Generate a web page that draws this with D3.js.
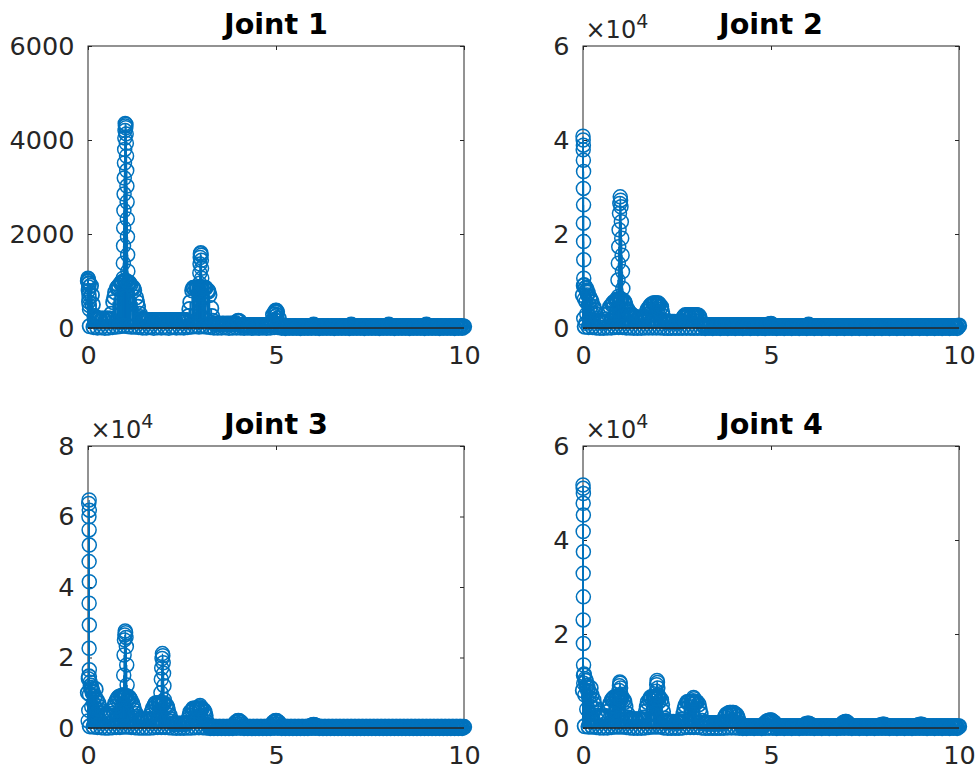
<!DOCTYPE html>
<html><head><meta charset="utf-8">
<script src="https://cdn.jsdelivr.net/npm/d3@7"></script>
<style>body{margin:0;background:#fff} svg{display:block}</style>
</head><body>
<svg id="chart" width="978" height="769"></svg>
<script>
// ---------------- DATA ----------------
const titles = ["Joint 1", "Joint 2", "Joint 3", "Joint 4"];
const freqStep = 0.025;           // spectrum grid spacing (Hz), bins 0..400
const xTickValues = [0, 5, 10];
const yMaxes = [6000, 60000, 80000, 60000];
const yTickValues = [[0, 2000, 4000, 6000], [0, 20000, 40000, 60000], [0, 20000, 40000, 60000, 80000], [0, 20000, 40000, 60000]];
const yExponents = [0, 4, 4, 4];

// magnitude per frequency bin (raw units); each row = 20 bins = 0.5 Hz
const bandJ1 = [
  1000,950,40,900,700,500,20,250,210,195,10,200,190,200,15,195,200,185,5,200,
  190,200,10,200,195,300,20,550,650,760,30,850,870,900,40,950,970,980,50,1000,
  1000,990,40,970,950,920,30,870,850,800,30,650,550,450,20,300,230,190,10,170,
  165,160,10,165,150,165,20,160,165,155,5,165,160,165,15,150,165,160,10,165,
  160,165,15,155,165,160,5,165,160,165,20,155,165,160,10,165,150,165,15,160,
  165,160,10,165,155,165,20,250,400,550,30,800,850,850,40,850,850,850,30,850,
  850,850,40,850,850,850,30,800,780,700,20,420,250,150,10,90,85,80,10,90,
  85,80,10,90,85,80,15,90,80,85,5,90,85,80,10,90,85,100,10,140,
  150,140,10,60,55,60,5,58,60,55,10,60,58,55,5,60,55,60,10,58,
  60,55,5,60,58,55,10,60,55,60,5,58,60,55,10,60,150,280,20,340,
  370,340,20,200,36,32,5,36,30,34,0,36,32,30,6,36,34,30,2,36,
  32,36,4,30,34,36,0,32,36,30,6,34,36,32,2,30,36,34,5,50,
  70,50,4,36,32,34,0,30,36,32,6,36,30,34,2,36,32,30,4,36,
  34,30,0,36,32,34,6,30,36,32,2,34,36,30,4,36,32,34,0,50,
  70,50,6,36,30,34,2,36,32,30,4,36,34,30,0,32,36,34,6,30,
  36,32,2,34,36,30,4,32,36,34,0,30,36,32,6,34,30,36,2,50,
  68,50,4,34,36,30,0,32,36,34,6,30,36,32,2,34,36,30,4,36,
  32,34,0,36,30,32,6,36,34,30,2,32,36,34,4,30,36,32,0,50,
  70,50,6,36,32,30,2,34,36,32,4,30,36,34,0,32,36,30,6,34,
  36,32,2,30,34,36,4,32,30,36,0,34,32,36,6,30,34,36,2,32,
  30];
const bandJ2 = [
  7000,9000,300,8500,8000,7500,200,6500,6000,5500,200,4500,3800,3000,100,2000,1600,1400,50,1300,
  1300,1250,50,1300,1300,1800,100,3000,3800,4500,100,5000,5200,5500,200,5800,6000,6000,200,6000,
  6000,6000,200,5800,5500,5000,100,4000,3600,3300,100,2900,2700,2500,50,2400,2300,2200,50,2100,
  2000,2000,50,2000,2100,2300,100,2800,3500,4000,100,4500,4800,5000,100,5200,5200,5200,100,5200,
  5200,5000,100,4500,3500,2500,50,1500,1300,1250,30,1300,1250,1300,20,1300,1250,1300,50,1250,
  1300,1250,30,1300,1300,1500,50,2200,2500,2700,50,2700,2700,2700,50,2700,2700,2700,30,2700,
  2700,2700,50,2600,2200,1500,20,800,570,560,10,570,550,560,20,570,560,550,10,570,
  560,570,20,550,570,560,10,570,550,560,30,570,560,570,10,550,560,570,20,560,
  570,550,10,570,560,570,20,550,570,560,10,570,550,560,30,570,560,550,10,570,
  560,570,20,550,570,560,10,570,560,550,20,570,560,570,10,550,600,700,20,800,
  850,700,20,500,360,350,10,360,340,360,20,350,360,340,10,360,350,360,30,340,
  360,350,10,360,340,360,20,350,360,340,10,360,350,360,30,340,360,400,10,500,
  700,500,20,400,360,350,10,360,340,360,20,350,360,340,10,360,350,360,30,340,
  360,350,10,360,340,360,20,350,360,340,10,360,350,360,30,340,360,350,10,360,
  350,360,20,340,360,350,10,360,340,360,20,350,360,340,10,360,350,360,30,340,
  360,350,10,360,340,360,20,350,360,340,10,360,350,360,30,340,360,350,10,360,
  350,360,20,340,360,350,10,360,340,360,20,350,360,340,10,360,350,360,30,340,
  360,350,10,360,340,360,20,350,360,340,10,360,350,360,30,340,360,350,10,360,
  350,360,20,340,360,350,10,360,340,360,20,350,360,340,10,360,350,360,30,340,
  360,350,10,360,340,360,20,350,360,340,10,360,350,360,30,340,360,350,10,400,
  500];
const bandJ3 = [
  10000,14600,500,12000,11000,10000,400,9000,11000,8000,300,7000,6000,5000,200,4200,3600,3400,100,3300,
  3400,3300,100,3400,3500,4000,200,5000,6000,7000,300,8000,8500,8800,300,9000,9000,9000,400,9000,
  9000,9000,400,8800,8500,8000,300,7000,6000,5000,200,4000,3200,2800,100,2500,2400,2300,100,2300,
  2300,2200,100,2300,2400,2500,100,3500,4500,5500,200,6500,7000,7000,300,7000,7000,7000,300,7000,
  7000,7000,300,6500,6000,5000,200,3500,2500,1800,100,1200,1100,1200,50,1100,1200,1150,50,1200,
  1100,1200,50,1150,1200,1500,100,2500,3500,4500,100,5000,5500,5500,200,5500,5500,5500,200,5500,
  5500,5500,200,5000,4500,3500,100,1500,800,300,10,290,300,280,20,300,290,300,10,280,
  300,290,20,300,280,300,10,290,300,280,20,300,290,300,10,500,1000,1500,50,1900,
  2000,1900,50,1500,1000,500,10,300,290,280,20,300,290,300,10,280,300,290,20,300,
  290,300,10,280,300,290,20,300,280,300,10,290,300,280,20,500,1000,1500,50,1900,
  2000,1900,50,1500,1000,500,10,300,290,280,20,300,290,300,10,280,300,290,20,300,
  290,300,10,280,300,290,20,300,280,300,10,290,300,280,20,300,400,600,30,800,
  850,800,30,600,400,300,10,290,300,280,20,300,290,300,10,280,300,290,20,300,
  290,300,10,280,300,290,20,300,280,300,10,290,300,280,20,300,290,300,10,280,
  300,290,20,300,280,300,10,290,300,280,20,300,290,300,10,280,300,290,20,300,
  290,300,10,280,300,290,20,300,280,300,10,290,300,280,20,300,290,300,10,280,
  300,290,20,300,280,300,10,290,300,280,20,300,290,300,10,280,300,290,20,300,
  290,300,10,280,300,290,20,300,280,300,10,290,300,280,20,300,290,300,10,280,
  300,290,20,300,280,300,10,290,300,280,20,300,290,300,10,280,300,290,20,300,
  290,300,10,280,300,290,20,300,280,300,10,290,300,280,20,300,290,300,10,280,
  300];
const bandJ4 = [
  8000,11200,400,10000,9000,8500,300,7500,8500,7000,300,6000,5000,4000,200,3200,2600,2300,100,2200,
  2300,2200,100,2100,2200,2500,100,3500,4500,5200,200,6000,6200,6500,300,6500,6500,6500,300,6500,
  6500,6500,300,6000,5500,4500,200,3000,2200,1900,100,1800,1700,1800,50,1750,1800,1700,50,1800,
  1750,1800,50,1700,1800,2200,100,3500,4500,5500,200,6000,6500,6500,300,6500,6500,6500,300,6500,
  6500,6500,300,6000,5000,3500,100,2000,1500,1300,50,1300,1250,1300,30,1250,1300,1250,50,1300,
  1250,1300,30,1300,1400,1800,100,3000,4000,4800,200,5500,5500,5500,200,5500,5500,5500,200,5500,
  5500,5500,200,5000,4000,3000,100,1500,1100,1000,30,1000,950,1000,20,1000,950,1000,30,950,
  1000,950,20,1000,1000,950,30,1000,1000,1300,50,2200,2600,2900,100,3100,3200,3200,100,3200,
  3200,3100,100,2800,2400,1800,50,1000,600,400,10,350,340,350,10,340,350,340,20,350,
  340,350,10,350,340,350,20,340,350,340,10,350,600,900,30,1200,1400,1500,50,1600,
  1600,1500,50,1200,900,600,10,400,350,340,20,350,340,350,10,340,350,340,20,350,
  340,350,10,350,340,350,20,340,350,340,10,350,340,350,20,400,600,800,30,900,
  900,800,30,600,400,350,10,340,350,340,20,350,340,350,10,340,350,340,20,350,
  340,350,10,350,340,350,20,340,350,340,10,350,340,350,20,500,800,1100,40,1300,
  1300,1100,40,800,500,350,10,340,350,340,20,350,340,350,10,340,350,340,20,350,
  340,350,10,350,340,350,20,340,350,340,10,350,340,350,20,400,500,600,30,700,
  700,600,30,500,400,350,10,340,350,340,20,350,340,350,10,340,350,340,20,350,
  340,350,10,350,340,350,20,340,350,340,10,350,340,350,20,400,500,600,30,700,
  700,600,30,500,400,350,10,340,350,340,20,350,340,350,10,340,350,340,20,350,
  340,350,10,350,340,350,20,340,350,340,10,350,340,350,20,340,350,340,10,350,
  340];

// closely spaced bins around the spectral peaks
const peakFreqJ1 = [0,0.01,0.005,0.015,0.02,0.01,0.025,0.03,0.02,0.035,0.04,
  0.99,1.01,0.995,1.005,0.985,1.015,0.98,1.02,0.975,1.025,0.97,1.03,0.965,1.035,0.96,1.04,0.955,1.045,0.95,1.05,0.945,1.055,0.94,1.06,0.935,1.065,
  3.0,2.99,3.01,2.985,3.015,2.98,3.02,2.975,3.025,2.97,3.03,2.965,3.035,2.96,
  5.0,4.99,5.01,4.98,5.02,4.97,5.03,4.96,5.04];
const peakValJ1 = [1060,1040,990,940,870,800,720,640,560,480,400,
  4350,4330,4300,4260,4200,4130,4040,3930,3800,3660,3510,3350,3190,3020,2850,2680,2500,2320,2130,1940,1750,1560,1380,1210,1060,950,
  1600,1580,1550,1500,1440,1360,1270,1170,1060,950,840,730,620,510,
  370,350,330,300,270,240,210,180,150];
const peakFreqJ2 = [0,0.005,0.01,0.005,0.01,0.015,0.01,0.015,0.01,0.015,0.02,0.02,
  0.03,0.06,0.09,0.12,0.04,0.08,0.15,0.18,0.22,0.1,0.02,0.07,
  0.99,1.0,0.98,1.01,0.97,1.02,0.96,1.03,0.95,1.04,0.94,1.05,0.93,1.06,0.94,
  1.98,2.0,1.97,2.01,1.99,
  2.97,3.0];
const peakValJ2 = [40800,40000,38900,37900,35700,33300,29700,26200,22300,18400,14500,10600,
  9200,8500,7800,7000,6200,5600,5000,4200,3500,3000,2000,1000,
  27900,27200,26500,25800,24400,22600,20900,19100,17300,15500,13800,12000,10200,8400,6700,
  5200,5000,4700,4400,4000,
  2650,2500];
const peakFreqJ3 = [0.03,0.02,0.035,0.025,0.03,0.035,0.03,0.035,0.03,0.035,0.03,0.035,
  0.01,0.06,0.08,0.12,0.04,0.18,0.02,0.1,0.005,0.15,0.22,0.25,
  0.99,1.0,0.98,1.01,0.97,1.02,0.96,1.03,0.95,1.04,0.94,1.05,
  1.98,1.99,1.97,2.0,1.96,2.01,1.95,2.02,1.94,2.03,1.93,
  2.98,2.97,2.99,2.96,3.0];
const peakValJ3 = [64700,63700,61800,59900,56200,51900,47200,41500,35400,29200,22600,16500,
  14000,13000,11500,10500,9500,8500,5000,6000,2000,7000,5500,4500,
  27500,27000,26400,25700,25000,23100,20700,17900,15000,12200,9400,8000,
  21100,20500,19700,18500,17000,15500,13800,12000,10000,8000,6500,
  6400,6000,5500,4500,3500];
const peakFreqJ4 = [0,0.005,0.01,0.005,0.01,0.005,0.01,0.005,0.01,0.005,0.01,0.015,
  0.03,0.06,0.02,0.09,0.12,0.05,0.15,0.18,0.22,0.1,
  0.98,0.99,0.97,1.0,0.96,1.01,0.95,1.02,0.94,
  1.97,1.98,1.96,1.99,1.95,2.0,1.94,2.01,
  2.94,2.95,2.93,2.96,2.92];
const peakValJ4 = [51700,51000,49900,47800,45300,41800,37500,32900,27900,23000,18000,13400,
  11500,10500,9500,9000,8000,7000,6500,5500,4500,4000,
  9800,9500,9000,8500,8000,7200,6500,6000,5000,
  10100,9700,9200,8500,7800,7000,6200,5500,
  6500,6200,5800,5200,4500];

const bands = [bandJ1, bandJ2, bandJ3, bandJ4];
const peakFreqs = [peakFreqJ1, peakFreqJ2, peakFreqJ3, peakFreqJ4];
const peakVals = [peakValJ1, peakValJ2, peakValJ3, peakValJ4];

// ---------------- LAYOUT ----------------
const panels = [
  {left: 88, right: 464, top: 46, bottom: 328},
  {left: 583, right: 959, top: 46, bottom: 328},
  {left: 88, right: 464, top: 446, bottom: 728},
  {left: 583, right: 959, top: 446, bottom: 728}
];
const BLUE = "#0072BD", AXIS = "#262626";
const FONT = "'DejaVu Sans', sans-serif";
const R = 7;

const svg = d3.select("#chart");

panels.forEach((p, k) => {
  const x = d3.scaleLinear().domain([0, 10]).range([p.left, p.right]);
  const y = d3.scaleLinear().domain([0, yMaxes[k]]).range([p.bottom, p.top]);
  const g = svg.append("g");
  const exp = yExponents[k];
  const fmt = d => exp ? String(d / Math.pow(10, exp)) : String(d);

  // axes (below data)
  const styleAxis = sel => {
    sel.select(".domain").remove();
    sel.selectAll("line").attr("stroke", AXIS).attr("stroke-width", 1);
    sel.selectAll("text").attr("fill", AXIS).style("font-family", FONT).style("font-size", "25.5px");
  };
  g.append("g").attr("transform", `translate(0,${p.bottom})`)
    .call(d3.axisBottom(x).tickValues(xTickValues).tickSize(-4).tickPadding(18).tickFormat(d3.format("d")))
    .call(styleAxis);
  g.append("g").attr("transform", `translate(0,${p.top})`)
    .call(d3.axisTop(x).tickValues(xTickValues).tickSize(-4).tickFormat(""))
    .call(styleAxis);
  g.append("g").attr("transform", `translate(${p.left},0)`)
    .call(d3.axisLeft(y).tickValues(yTickValues[k]).tickSize(-4).tickPadding(13.5).tickFormat(fmt))
    .call(styleAxis);
  g.append("g").attr("transform", `translate(${p.right},0)`)
    .call(d3.axisRight(y).tickValues(yTickValues[k]).tickSize(-4).tickFormat(""))
    .call(styleAxis);
  g.append("rect").attr("x", p.left).attr("y", p.top)
    .attr("width", p.right - p.left).attr("height", p.bottom - p.top)
    .attr("fill", "none").attr("stroke", AXIS).attr("stroke-width", 1);

  // data points
  const bandPts = bands[k].map((v, i) => ({f: i * freqStep, v}));
  const peakPts = peakFreqs[k].map((f, i) => ({f, v: peakVals[k][i]}));

  // stems: dense spectrum bins use a wider stroke so neighbouring stems merge
  g.append("g").selectAll("line").data(bandPts).join("line")
    .attr("x1", d => x(d.f)).attr("x2", d => x(d.f))
    .attr("y1", y(0)).attr("y2", d => y(d.v))
    .attr("stroke", BLUE).attr("stroke-width", 2);
  g.append("g").selectAll("line").data(peakPts).join("line")
    .attr("x1", d => x(d.f)).attr("x2", d => x(d.f))
    .attr("y1", y(0)).attr("y2", d => y(d.v))
    .attr("stroke", BLUE).attr("stroke-width", 1.3);
  g.append("g").selectAll("circle").data(bandPts).join("circle")
    .attr("cx", d => x(d.f)).attr("cy", d => y(d.v)).attr("r", 7.3)
    .attr("fill", "none").attr("stroke", BLUE).attr("stroke-width", 1.8);
  g.append("g").selectAll("circle").data(peakPts).join("circle")
    .attr("cx", d => x(d.f)).attr("cy", d => y(d.v)).attr("r", R)
    .attr("fill", "none").attr("stroke", BLUE).attr("stroke-width", 1.5);

  // stem baseline
  g.append("line").attr("x1", x(0)).attr("x2", x(10)).attr("y1", y(0)).attr("y2", y(0))
    .attr("stroke", AXIS).attr("stroke-width", 1.3);

  // title
  svg.append("text").attr("x", (p.left + p.right) / 2).attr("y", p.top - 12)
    .attr("text-anchor", "middle").style("font-family", FONT).style("font-weight", "bold")
    .style("font-size", "28.6px").attr("fill", "#000").text(titles[k]);

  // exponent label
  if (exp) {
    const t = svg.append("text").attr("x", p.left + 2.5).attr("y", p.top - 8)
      .style("font-family", FONT).style("font-size", "24px").attr("fill", AXIS);
    t.append("tspan").text("×10");
    t.append("tspan").attr("dy", -10).style("font-size", "19px").text(String(exp));
  }
});
</script>
</body></html>
